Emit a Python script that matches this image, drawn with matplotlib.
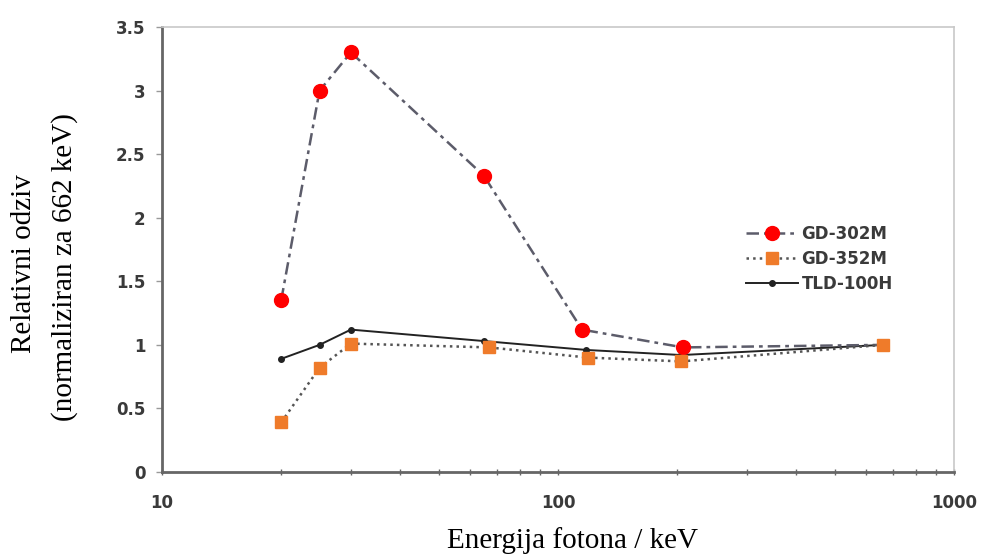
import matplotlib
matplotlib.use('agg')
import matplotlib.pyplot as plt
from matplotlib.ticker import FixedLocator, NullFormatter

# energies (keV) and relative response
energy302 = [20, 25, 30, 65, 115, 207, 662]
resp302 = [1.35, 3.00, 3.30, 2.33, 1.12, 0.98, 1.00]

energy352 = [20, 25, 30, 67, 119, 205, 662]
resp352 = [0.39, 0.82, 1.01, 0.98, 0.90, 0.87, 1.00]

energyTld = [20, 25, 30, 65, 118, 205, 662]
respTld = [0.89, 1.00, 1.12, 1.03, 0.96, 0.92, 1.00]

yticks = [0, 0.5, 1, 1.5, 2, 2.5, 3, 3.5]
yticklabels = ['0', '0.5', '1', '1.5', '2', '2.5', '3', '3.5']
xticks = [10, 100, 1000]
xticklabels = ['10', '100', '1000']

fig = plt.figure(figsize=(9.84, 5.58), dpi=100)
ax = fig.add_axes([0.1646, 0.1541, 0.8049, 0.7975])

ax.plot(energy302, resp302, linestyle=(0, (5, 2, 1.5, 2)), color='#5c5c6a', linewidth=1.8,
        marker='o', markersize=10, markerfacecolor='#ff0000', markeredgecolor='#ff0000',
        markevery=[0, 1, 2, 3, 4, 5], label='GD-302M', zorder=3)
ax.plot(energy352, resp352, linestyle=':', color='#555555', linewidth=1.8,
        marker='s', markersize=9, markerfacecolor='#ef7b2a', markeredgecolor='#ef7b2a',
        label='GD-352M', zorder=4)
ax.plot(energyTld, respTld, linestyle='-', color='#222222', linewidth=1.4,
        marker='o', markersize=4, markerfacecolor='#222222',
        label='TLD-100H', zorder=2)

ax.set_xscale('log')
ax.set_xlim(10, 1000)
ax.set_ylim(0, 3.5)

tickfont = dict(family='DejaVu Sans', weight='bold', size=12, color='#3a3a3a')
ax.set_xticks(xticks)
ax.set_xticklabels(xticklabels, fontdict=tickfont)
ax.xaxis.set_minor_locator(FixedLocator([20, 30, 40, 50, 60, 70, 80, 90,
                                         200, 300, 400, 500, 600, 700, 800, 900]))
ax.xaxis.set_minor_formatter(NullFormatter())
ax.set_yticks(yticks)
ax.set_yticklabels(yticklabels, fontdict=tickfont)
ax.tick_params(axis='y', direction='out', length=4, width=1, color='#999999', pad=8)
ax.tick_params(axis='x', which='both', direction='inout', length=4, width=1,
               color='#666666', pad=14)

for side in ['left', 'bottom']:
    ax.spines[side].set_color('#666666')
    ax.spines[side].set_linewidth(2)
for side in ['top', 'right']:
    ax.spines[side].set_color('#c8c8c8')
    ax.spines[side].set_linewidth(1.2)

leg = ax.legend(loc='upper left', bbox_to_anchor=(0.738, 0.555), frameon=False,
                prop=dict(family='DejaVu Sans', weight='bold', size=12),
                handlelength=3.1, handletextpad=0.2, labelspacing=0.42,
                borderaxespad=0, borderpad=0)
for txt in leg.get_texts():
    txt.set_color('#3a3a3a')

labfont = dict(family='Liberation Serif', size=21, color='black')
fig.text(0.582, 0.032, 'Energija fotona / keV', ha='center', va='center', fontdict=labfont)
fig.text(0.024, 0.527, 'Relativni odziv', rotation=90, ha='center', va='center', fontdict=labfont)
fig.text(0.066, 0.521, '(normaliziran za 662 keV)', rotation=90, ha='center', va='center',
         fontdict=labfont)

fig.savefig('out.png', dpi=100)
